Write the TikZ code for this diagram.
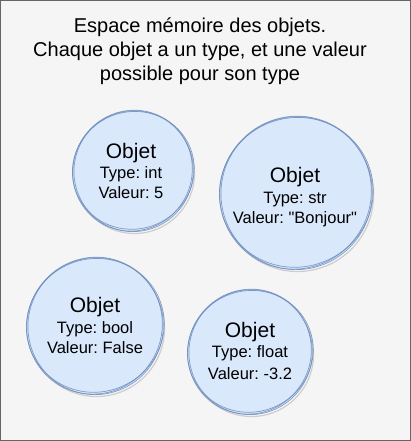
\documentclass[tikz,border=0pt]{standalone}
\usepackage{fontspec}
\setmainfont{Liberation Sans}[Ligatures=TeXOff]
\frenchspacing
\definecolor{bgfill}{HTML}{F5F5F5}
\definecolor{bgline}{HTML}{666666}
\definecolor{objfill}{HTML}{DAE8FC}
\definecolor{objline}{HTML}{6C8EBF}
\newcommand{\sketchobj}[4]{%
  \draw[shadowline] (#2+1.5,#3+2.5) circle[radius=#4pt];
  \node[objdisk, minimum size={2*#4pt}] (#1) at (#2,#3) {};
  \draw[sketchline, rotate around={20:(#2,#3)}] (#2+0.5,#3-0.5) ellipse[x radius=#4pt+1.2pt, y radius=#4pt-1.4pt];
  \draw[sketchline, rotate around={-35:(#2,#3)}] (#2-0.6,#3) ellipse[x radius=#4pt-0.8pt, y radius=#4pt+1.1pt];
  \draw[sketchline, rotate around={75:(#2,#3)}] (#2,#3+0.6) ellipse[x radius=#4pt+0.5pt, y radius=#4pt-0.4pt];
}
\begin{document}
\begin{tikzpicture}[x=1pt,y=-1pt,
  objdisk/.style={circle, fill=objfill, inner sep=0pt, draw=none},
  sketchline/.style={draw=objline, line width=0.7pt, opacity=0.85},
  shadowline/.style={draw=black!35, line width=1.2pt, opacity=0.5},
  headtxt/.style={anchor=base, inner sep=0pt, font=\fontsize{20}{24}\selectfont},
  objhead/.style={anchor=base, inner sep=0pt, font=\fontsize{21}{25}\selectfont},
  objtxt/.style={anchor=base, inner sep=0pt, font=\fontsize{16.5}{20}\selectfont},
]
\useasboundingbox (0,0) rectangle (411,441);
\draw[fill=bgfill, draw=bgline, line width=1pt] (0.5,0.5) rectangle (410.5,440.5);

\node[headtxt] (h1) at (200,33) {Espace mémoire des objets.};
\node[headtxt] (h2) at (200,57) {Chaque objet a un type, et une valeur};
\node[headtxt] (h3) at (200,81) {possible pour son type};

\sketchobj{c1}{133}{171}{60}
\sketchobj{c2}{296}{193}{76}
\sketchobj{c3}{95}{326}{68}
\sketchobj{c4}{250}{352}{62}

\node[objhead] (c1a) at (131,158) {Objet};
\node[objtxt] (c1b) at (131,178) {Type: int};
\node[objtxt] (c1c) at (131,198) {Valeur: 5};

\node[objhead] (c2a) at (295,182) {Objet};
\node[objtxt] (c2b) at (295,203) {Type: str};
\node[objtxt] (c2c) at (295,223) {Valeur: "Bonjour"};

\node[objhead] (c3a) at (95,312) {Objet};
\node[objtxt] (c3b) at (95,333) {Type: bool};
\node[objtxt] (c3c) at (95,353) {Valeur: False};

\node[objhead] (c4a) at (250,337) {Objet};
\node[objtxt] (c4b) at (250,357) {Type: float};
\node[objtxt] (c4c) at (250,379) {Valeur: -3.2};
\end{tikzpicture}
\end{document}
